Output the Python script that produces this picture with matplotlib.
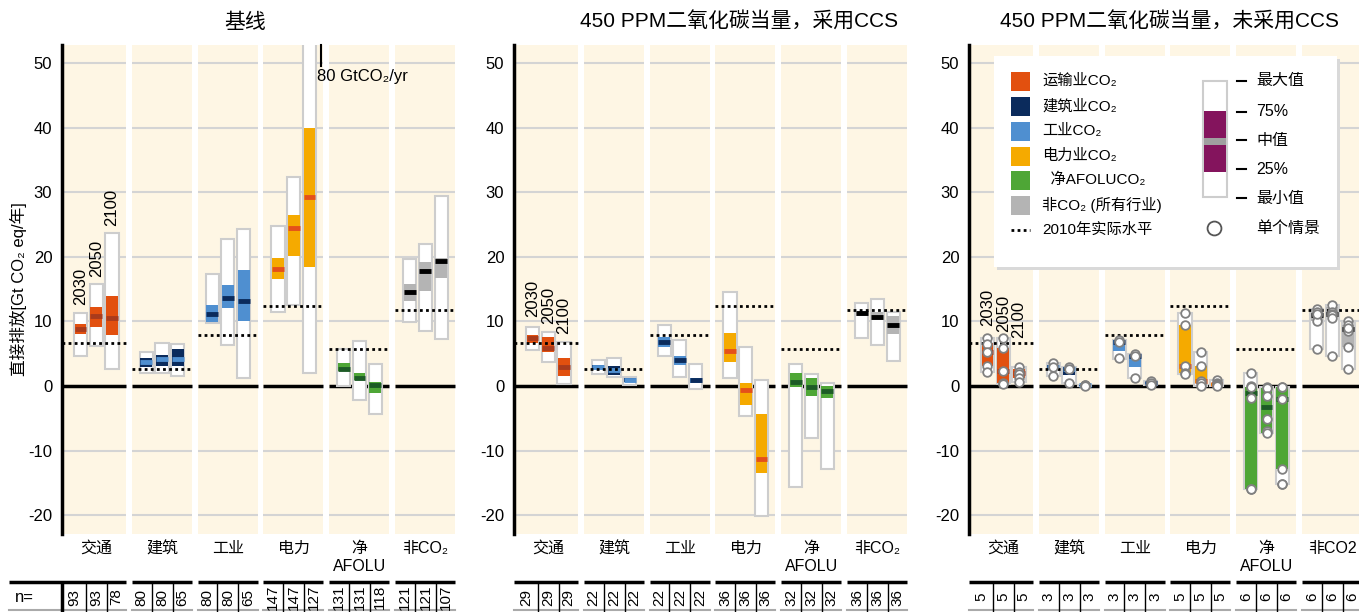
import numpy as np
import matplotlib
matplotlib.use('Agg')
import matplotlib.pyplot as plt
from matplotlib.patches import Rectangle
from matplotlib import transforms

plt.rcParams['font.family'] = ['Liberation Sans', 'Noto Sans CJK SC', 'DejaVu Sans']

W, H = 1359, 612

sectors = ['交通', '建筑', '工业', '电力', '净\nAFOLU', '非CO₂']
years = ['2030', '2050', '2100']
level_2010 = [6.7, 2.6, 7.9, 12.4, 5.8, 11.8]

box_colors = ['#E2500F', '#0B2B5C', '#4F8FD0', '#F5AA00', '#4EA636', '#B4B4B4']
med_colors = ['#A93B1C', '#4F8FD0', '#0B2B5C', '#E4501A', '#1D5B26', '#000000']
cream = '#FEF6E4'

# baseline scenarios (rows: sectors, cols: 2030/2050/2100)
base_max = [[11.3, 15.8, 23.7], [5.3, 6.7, 6.5], [17.4, 22.7, 24.3], [24.8, 32.4, 80.0], [5.8, 7.0, 3.4], [19.6, 22.0, 29.4]]
base_q75 = [[9.6, 12.3, 13.9], [4.4, 4.8, 5.7], [12.5, 15.7, 17.9], [19.8, 26.5, 39.9], [3.6, 2.1, 0.7], [15.8, 19.2, 19.8]]
base_med = [[8.8, 10.9, 10.5], [3.7, 4.2, 4.2], [11.2, 13.7, 13.2], [18.1, 24.5, 29.3], [2.7, 1.3, 0.2], [14.6, 17.8, 19.3]]
base_q25 = [[8.1, 9.2, 7.9], [3.0, 3.1, 3.1], [9.9, 12.1, 10.1], [16.5, 20.1, 18.4], [2.4, 0.9, -1.0], [13.2, 14.7, 16.8]]
base_min = [[4.6, 6.2, 2.6], [2.1, 2.0, 1.5], [9.8, 6.4, 1.3], [11.5, 12.6, 2.1], [0.0, -2.2, -4.3], [9.9, 8.6, 7.3]]
base_n = [[93, 93, 78], [80, 80, 65], [80, 80, 65], [147, 147, 127], [131, 131, 118], [121, 121, 107]]

# 450 ppm with CCS
ccs_max = [[9.1, 8.4, 6.8], [4.1, 4.4, 1.4], [9.5, 7.1, 3.4], [14.6, 6.1, 1.0], [3.4, 1.8, 0.5], [12.9, 13.5, 11.4]]
ccs_q75 = [[7.9, 7.6, 4.3], [3.2, 3.1, 1.2], [7.6, 4.6, 1.3], [8.2, 0.5, -4.3], [2.0, 1.3, 0.0], [11.5, 11.4, 10.8]]
ccs_med = [[7.5, 5.9, 3.0], [2.9, 2.5, 0.9], [6.9, 4.1, 0.9], [5.5, -0.6, -11.3], [0.7, -0.2, -0.7], [11.3, 10.7, 9.4]]
ccs_q25 = [[6.6, 5.3, 1.6], [2.6, 1.7, 0.6], [6.0, 3.3, 0.5], [3.8, -3.0, -13.4], [-0.2, -1.6, -1.8], [10.8, 10.3, 8.1]]
ccs_min = [[5.6, 3.7, 0.3], [1.8, 1.4, 0.2], [4.6, 1.4, -0.5], [1.3, -4.6, -20.1], [-15.6, -8.0, -12.9], [7.5, 6.3, 3.9]]
ccs_n = [[29, 29, 29], [22, 22, 22], [22, 22, 22], [36, 36, 36], [32, 32, 32], [36, 36, 36]]

# 450 ppm without CCS
noccs_max = [[7.5, 7.5, 3.0], [3.5, 2.9, 0.2], [7.2, 4.9, 0.8], [11.3, 5.2, 0.9], [2.0, -0.2, -0.1], [11.9, 12.5, 10.1]]
noccs_q75 = [[6.6, 5.9, 2.7], [3.2, 2.9, 0.15], [7.1, 4.8, 0.6], [9.4, 3.1, 0.5], [-0.1, -0.3, -0.1], [11.5, 12.3, 9.4]]
noccs_med = [[5.2, 2.4, 2.0], [2.9, 2.7, 0.1], [6.8, 4.7, 0.5], [3.1, 0.8, 0.3], [-1.0, -3.3, -2.0], [11.0, 11.1, 8.8]]
noccs_q25 = [[3.1, 0.5, 1.2], [2.6, 1.7, 0.05], [5.5, 2.9, 0.35], [2.0, 0.4, 0.05], [-16.0, -7.2, -12.9], [10.1, 11.0, 6.1]]
noccs_min = [[2.2, 0.3, 0.6], [1.5, 0.4, 0.0], [4.2, 1.2, 0.2], [1.8, 0.0, 0.0], [-16.0, -7.2, -15.1], [5.8, 4.7, 2.6]]
noccs_n = [[5, 5, 5], [3, 3, 3], [3, 3, 3], [5, 5, 5], [6, 6, 6], [6, 6, 6]]
noccs_points = [
    [[7.5, 6.5, 5.2, 3.1, 2.2], [7.5, 5.9, 2.4, 0.5, 0.3], [3.0, 2.2, 1.8, 1.2, 0.7]],
    [[3.5, 2.9, 1.5], [2.9, 2.7, 0.4], [0.2, 0.1, 0.0]],
    [[7.2, 6.8, 4.3], [4.9, 4.7, 1.2], [0.8, 0.5, 0.2]],
    [[11.3, 9.4, 3.1, 2.0, 1.8], [5.2, 3.1, 0.8, 0.4, 0.0], [0.9, 0.5, 0.3, 0.1, 0.0]],
    [[2.0, 0.0, -0.1, -1.8, -16.0, -16.0], [-0.2, -0.3, -1.5, -5.1, -7.0, -7.2], [-0.1, -0.1, -2.0, -12.9, -15.1, -15.1]],
    [[11.9, 11.5, 11.0, 10.1, 5.8, 11.2], [12.5, 11.5, 11.1, 11.0, 10.6, 4.7], [10.1, 9.4, 8.6, 6.1, 2.6, 9.0]],
]

titles = ['基线', '450 PPM二氧化碳当量，采用CCS', '450 PPM二氧化碳当量，未采用CCS']
title_x = [245, 739, 1169]
panel_left = [62, 514, 969]
year_label_y = [[12.5, 16.9, 24.8], [10.7, 9.6, 8.0], [9.3, 8.4, 7.4]]


def fy(py):
    return 1 - py / H


fig = plt.figure(figsize=(W / 100, H / 100), dpi=100)


def group_span(i):
    x0 = 0.0 if i == 0 else i + 0.06
    return x0, i + 0.97


def draw_panel(k, mins, q25s, meds, q75s, maxs, ns, points=None, last_label=None):
    ax = fig.add_axes([panel_left[k] / W, fy(534), 395 / W, (534 - 45) / H])
    ax.set_xlim(0, 6)
    ax.set_ylim(-22.9, 52.8)
    ax.set_facecolor('white')
    for s in ['top', 'right', 'bottom']:
        ax.spines[s].set_visible(False)
    ax.spines['left'].set_linewidth(2.5)
    ax.set_xticks([])
    yt = list(range(-20, 51, 10))
    ax.set_yticks(yt)
    ax.set_yticklabels([str(v) for v in yt])
    ax.tick_params(axis='y', length=0, labelsize=12, pad=7)

    trans = transforms.blended_transform_factory(ax.transData, fig.transFigure)

    for i in range(6):
        x0, x1 = group_span(i)
        ax.axvspan(x0, x1, color=cream, lw=0, zorder=0)
        for yv in yt:
            if yv != 0:
                ax.hlines(yv, x0, x1, color='#D4D4D4', lw=1.5, zorder=1)
        ax.hlines(0, x0, x1, color='black', lw=2.5, zorder=2)
        ax.hlines(level_2010[i], x0, x1, color='black', lw=2, linestyles=(0, (1, 1.2)), zorder=6)

        for j in range(3):
            cx = i + 0.52 + (j - 1) * 0.24
            bw = 0.2
            ax.add_patch(Rectangle((cx - bw / 2, mins[i][j]), bw, maxs[i][j] - mins[i][j],
                                   fc='white', ec='#CDCDCD', lw=1.5, zorder=3))
            ax.add_patch(Rectangle((cx - bw / 2 + 0.01, q25s[i][j]), bw - 0.02, q75s[i][j] - q25s[i][j],
                                   fc=box_colors[i], ec='none', zorder=4))
            ax.hlines(meds[i][j], cx - bw / 2 + 0.01, cx + bw / 2 - 0.01, color=med_colors[i], lw=3.5, zorder=5)
            if points is not None:
                pts = points[i][j]
                ax.plot([cx] * len(pts), pts, 'o', ms=6.2, mfc='white', mec='#808080', mew=1.3, zorder=7)
            if i == 0:
                ax.text(cx, year_label_y[k][j], years[j], rotation=90, ha='center', va='bottom', fontsize=12)

        # category labels
        lab = sectors[i]
        if i == 5 and last_label is not None:
            lab = last_label
        ax.text(i + 0.52, fy(541), lab, transform=trans, ha='center', va='top', fontsize=11.5,
                linespacing=1.25, multialignment='center')

        # n table
        lx0 = -0.8 if (k == 0 and i == 0) else x0
        ax.plot([lx0, x1], [fy(582), fy(582)], transform=trans, color='black', lw=2.5, clip_on=False,
                solid_capstyle='butt')
        ax.plot([lx0, x1], [fy(610), fy(610)], transform=trans, color='#AAAAAA', lw=1.5, clip_on=False)
        edges = [x0, i + 0.36, i + 0.68, x1]
        for e in edges[1:3]:
            ax.plot([e, e], [fy(583), fy(612)], transform=trans, color='black', lw=1, clip_on=False)
        for j in range(3):
            ax.text((edges[j] + edges[j + 1]) / 2, fy(597), str(ns[i][j]), transform=trans, rotation=90,
                    ha='center', va='center', fontsize=11)
    if k == 0:
        ax.plot([0, 0], [fy(583), fy(612)], transform=trans, color='black', lw=2.5, clip_on=False)
        ax.text(-0.72, fy(597), 'n=', transform=trans, ha='left', va='center', fontsize=12)
        # off-scale marker for electricity 2100
        ax.plot([3.93, 3.93], [49.6, 52.8], color='black', lw=1.5, clip_on=False, zorder=8)
        ax.text(3.88, 47.9, '80 GtCO₂/yr', ha='left', va='center', fontsize=12, zorder=8)
    fig.text(title_x[k] / W, fy(22), titles[k], ha='center', va='center', fontsize=15)
    return ax


draw_panel(0, base_min, base_q25, base_med, base_q75, base_max, base_n)
draw_panel(1, ccs_min, ccs_q25, ccs_med, ccs_q75, ccs_max, ccs_n)
draw_panel(2, noccs_min, noccs_q25, noccs_med, noccs_q75, noccs_max, noccs_n,
           points=noccs_points, last_label='非CO2')

fig.text(18 / W, fy(289), '直接排放[Gt CO₂ eq/年]', rotation=90, ha='center', va='center', fontsize=12)

# legend drawn on an overlay in pixel coordinates
ov = fig.add_axes([0, 0, 1, 1])
ov.set_xlim(0, W)
ov.set_ylim(H, 0)
ov.axis('off')
ov.set_zorder(10)

ov.add_patch(Rectangle((997, 59), 343, 211, fc='#D9D9D9', ec='none'))
ov.add_patch(Rectangle((994, 56), 343, 211, fc='white', ec='none'))

legend_labels = ['运输业CO₂', '建筑业CO₂', '工业CO₂', '电力业CO₂', '  净AFOLUCO₂', '非CO₂ (所有行业)']
rows = [81, 106, 131, 156, 180, 205]
for r, lab, c in zip(rows, legend_labels, box_colors):
    ov.add_patch(Rectangle((1011, r - 9.5), 19, 19, fc=c, ec='none'))
    ov.text(1042, r, lab, ha='left', va='center', fontsize=11)
ov.plot([1011, 1030], [230, 230], color='black', lw=2, linestyle=(0, (1, 1.2)))
ov.text(1042, 230, '2010年实际水平', ha='left', va='center', fontsize=11)

ov.add_patch(Rectangle((1203, 81), 24, 116, fc='white', ec='#CDCDCD', lw=1.5))
ov.add_patch(Rectangle((1204, 111), 22, 61, fc='#84145D', ec='none'))
ov.add_patch(Rectangle((1204, 137.5), 22, 7, fc='#A0A0A0', ec='none'))
key_rows = [81, 112, 140, 169, 198]
key_labels = ['最大值', '75%', '中值', '25%', '最小值']
for r, lab in zip(key_rows, key_labels):
    ov.plot([1237, 1246], [r, r], color='black', lw=1.5)
    ov.text(1256, r, lab, ha='left', va='center', fontsize=11.5)
ov.plot([1214], [228], 'o', ms=10, mfc='white', mec='#555555', mew=1.3)
ov.text(1256, 228, '单个情景', ha='left', va='center', fontsize=11.5)

fig.savefig('out.png', dpi=100)
